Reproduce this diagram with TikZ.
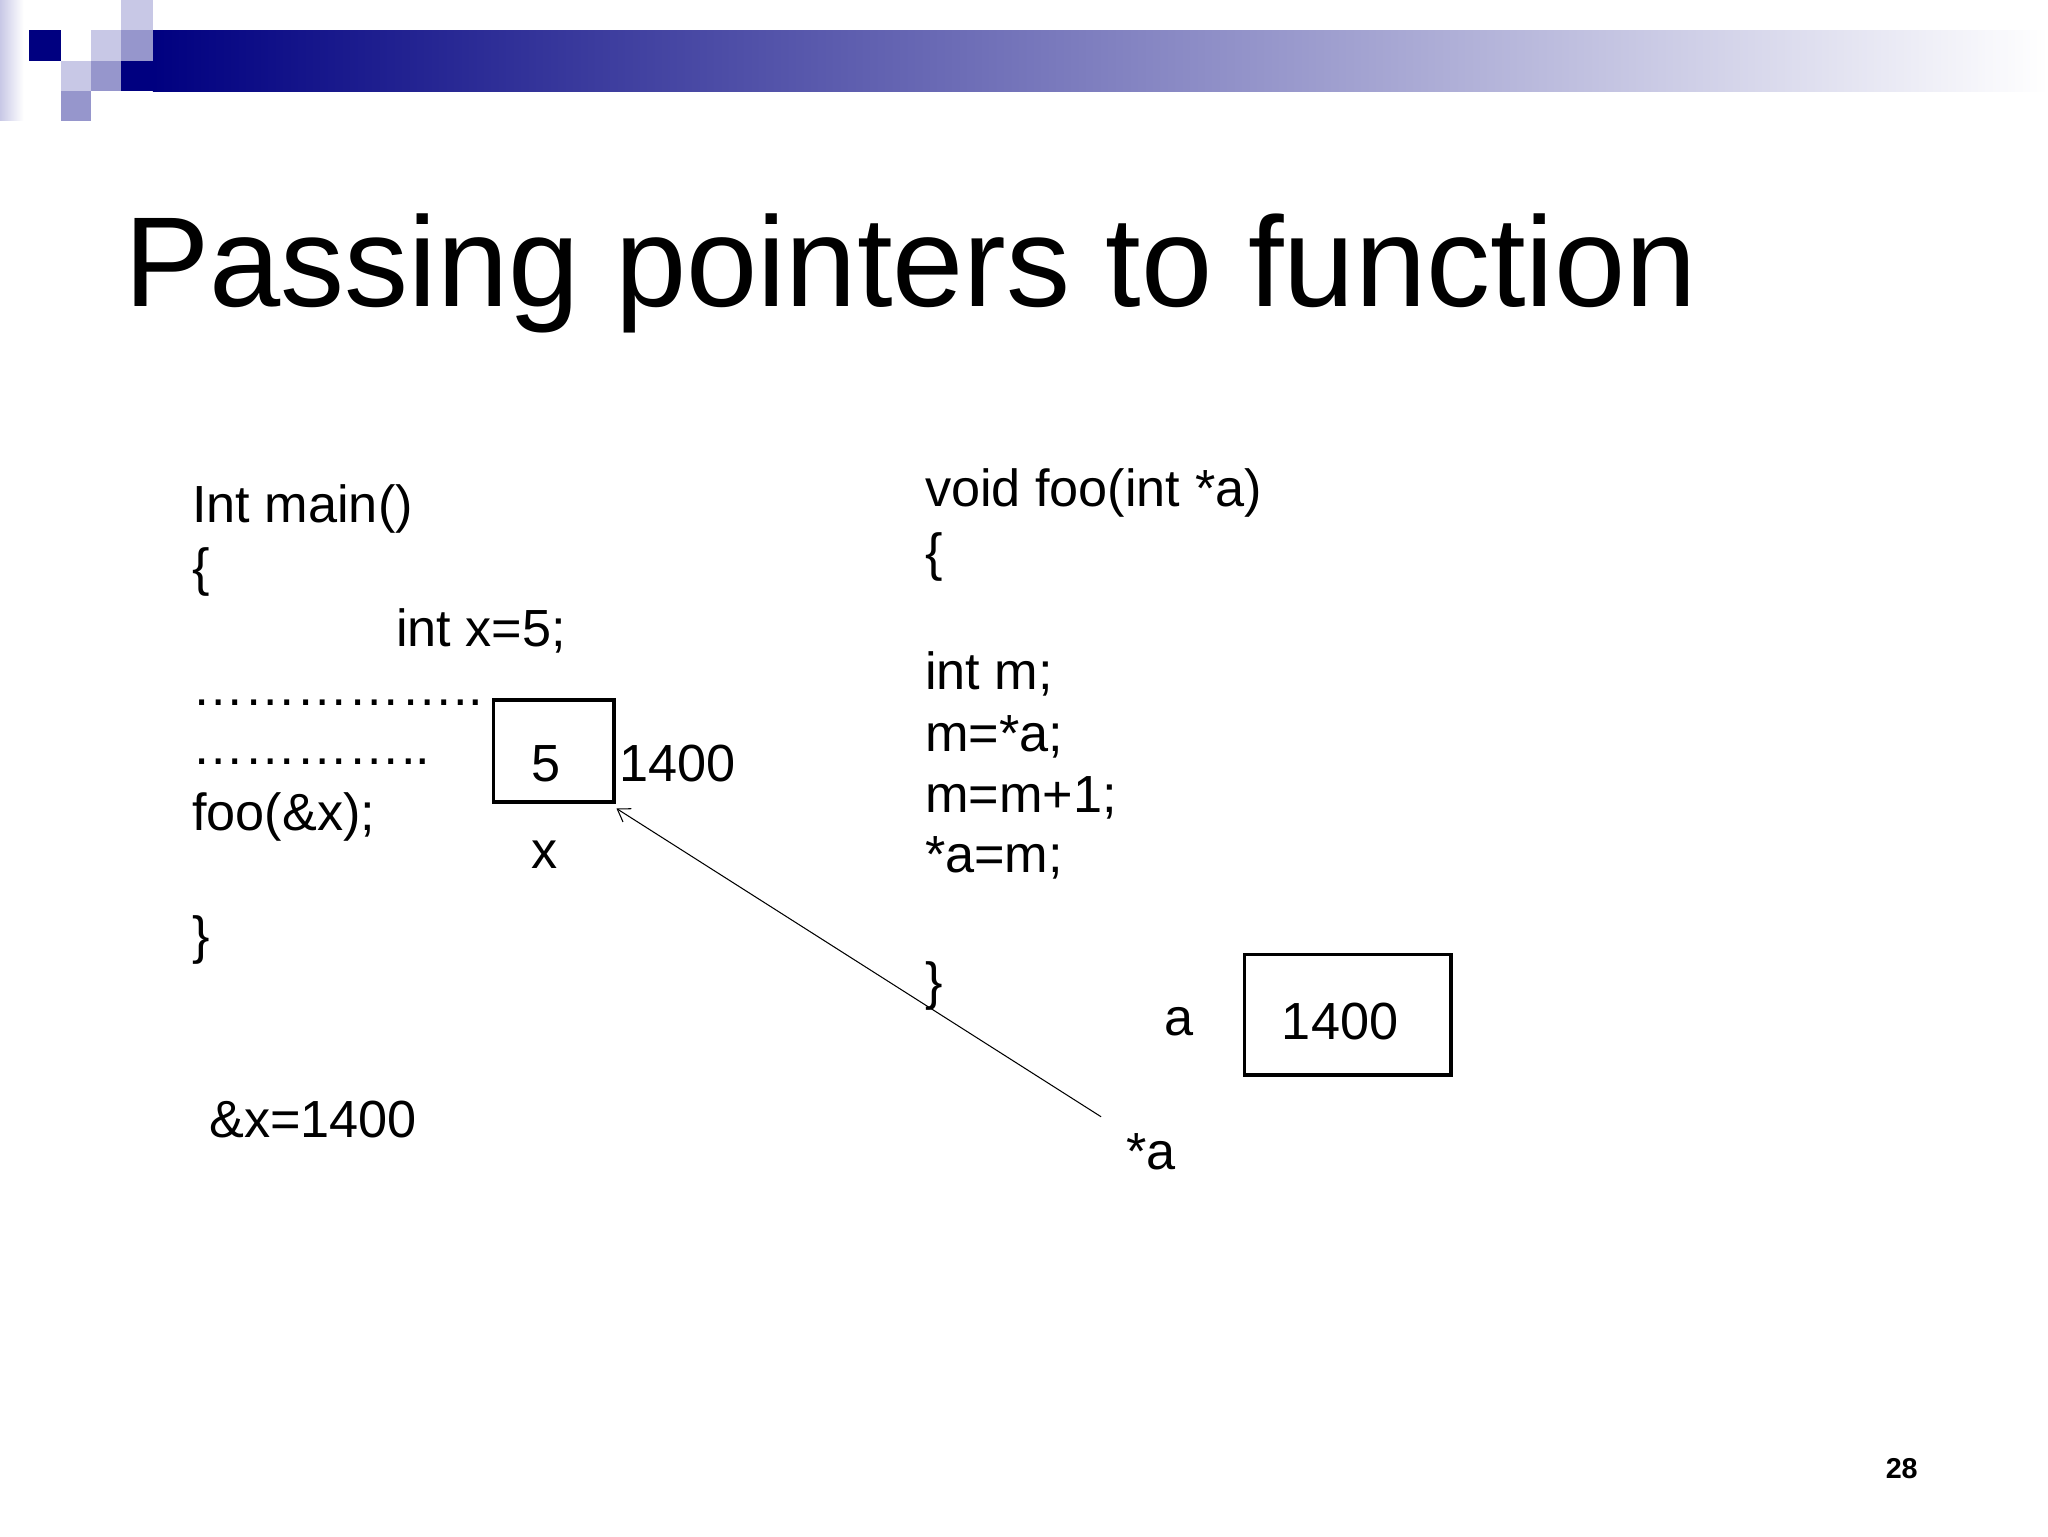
\documentclass[tikz,border=0pt]{standalone}
\usepackage{fontspec}
\usetikzlibrary{arrows.meta}
\setmainfont{Liberation Sans}
\definecolor{navy}{RGB}{0,0,128}
\definecolor{lav}{RGB}{200,200,230}
\definecolor{midl}{RGB}{150,150,204}
\begin{document}
\begin{tikzpicture}[x=1pt,y=-1pt,
  code/.style={anchor=base west,inner sep=0pt,font=\fontsize{40}{40}\selectfont}]
\useasboundingbox (0,0) rectangle (1568,1176);
\fill[white] (0,0) rectangle (1568,1176);
% header
\shade[left color=lav,right color=white] (0,0) rectangle (18,92);
\shade[left color=navy,right color=white] (117,23) rectangle (1568,70);
\fill[navy] (93,47) rectangle (117,70);
\fill[navy] (22,23) rectangle (47,47);
\fill[lav] (70,23) rectangle (93,47);
\fill[midl] (93,23) rectangle (117,47);
\fill[lav] (93,0) rectangle (117,23);
\fill[lav] (47,47) rectangle (70,70);
\fill[midl] (70,47) rectangle (93,70);
\fill[midl] (47,70) rectangle (70,93);
\node[anchor=base west,inner sep=0pt,font=\fontsize{98}{98}\selectfont] (title) at (95,235) {Passing pointers to function};
% left code
\node[code] (l1) at (147,400) {Int main()};
\node[code] (l2) at (147,448) {\{};
\node[code] (l3) at (303,495) {int x=5;};
\node[code] (l4) at (147,540) {……………..};
\node[code] (l5) at (147,585) {…………..};
\node[code] (l6) at (147,636) {foo(\&x);};
\node[code] (l7) at (147,730) {\}};
\node[code] (l8) at (160,871) {\&x=1400};
\draw[line width=2.5pt] (378,536) rectangle (470,614);
\node[code,anchor=base] (five) at (418,598) {5};
\coordinate (bx) at (472,619);
\node[code] (addr) at (474,598) {1400};
\node[code,anchor=base] (xl) at (417,665) {x};
% right code
\node[code] (r1) at (708,388) {void foo(int *a)};
\node[code] (r2) at (708,437) {\{};
\node[code] (r3) at (708,528) {int m;};
\node[code] (r4) at (708,575) {m=*a;};
\node[code] (r5) at (708,622) {m=m+1;};
\node[code] (r6) at (708,668) {*a=m;};
\node[code] (r7) at (708,765) {\}};
\node[code] (al) at (891,793) {a};
\draw[line width=2.5pt] (953,731) rectangle (1111,823);
\node[code,anchor=base] (av) at (1026,796) {1400};
\node[code] (sa) at (862,895) {*a};
\coordinate (as) at (843,855);
\draw[line width=0.8pt,-{Straight Barb[length=9pt,width=12pt]}] (as) -- (bx);
\node[anchor=base,font=\bfseries\fontsize{22}{22}\selectfont] (pg) at (1456,1132) {28};
\end{tikzpicture}
\end{document}
